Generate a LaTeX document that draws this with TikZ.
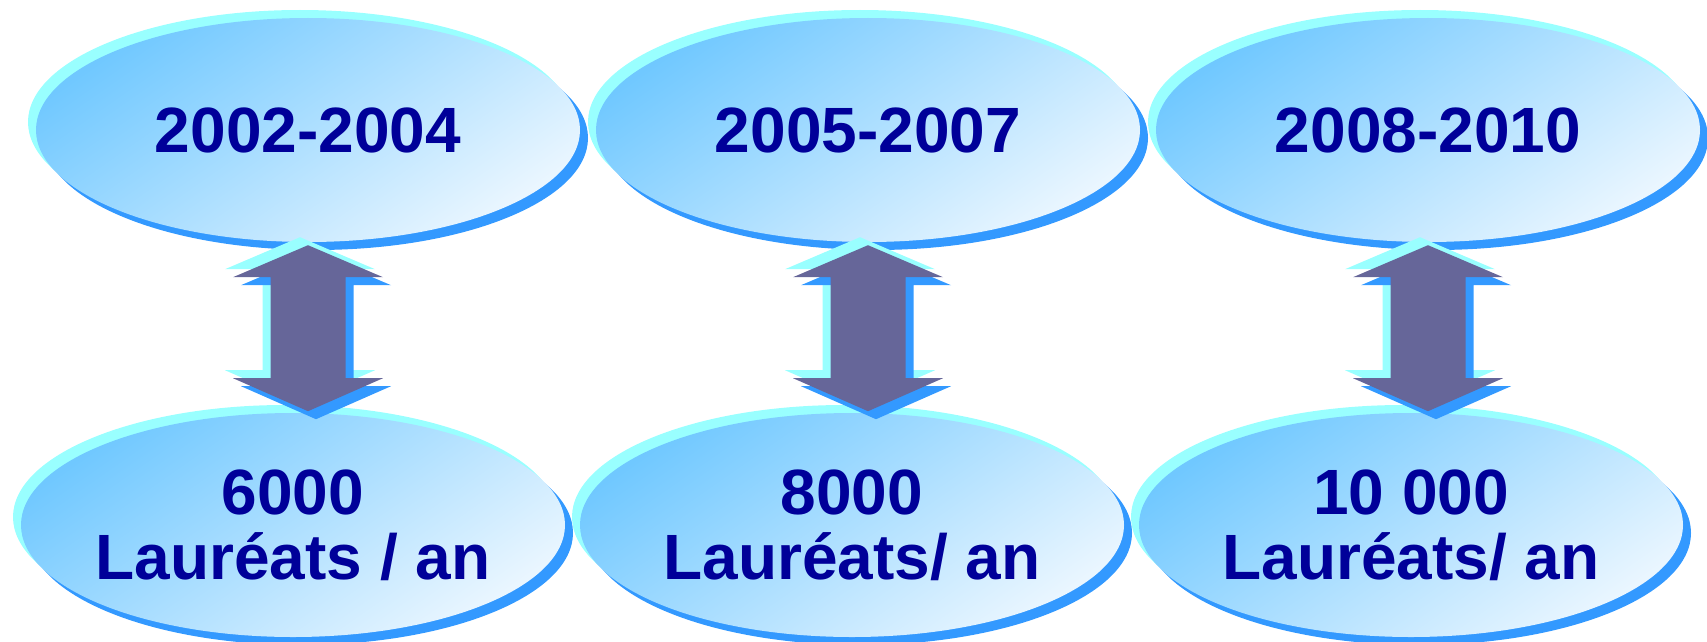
\documentclass[tikz,border=0pt]{standalone}
\usepackage{fontspec}
\setmainfont{Liberation Sans}
\usetikzlibrary{shapes.geometric}
\definecolor{cyanc}{RGB}{153,255,255}
\definecolor{shblue}{RGB}{51,153,255}
\definecolor{cA}{RGB}{112,200,255}
\definecolor{cB}{RGB}{234,246,255}
\definecolor{txt}{RGB}{0,0,153}
\definecolor{arr}{RGB}{102,102,153}
\tikzset{
  ell/.style={ellipse, minimum width=544pt, minimum height=224pt, inner sep=0pt, draw=none},
  hl/.style={ell, fill=cyanc},
  sh/.style={ell, fill=shblue},
  mainell/.style={ell, top color=cA, bottom color=cB, shading angle=35},
  lbl/.style={text=txt, font=\fontsize{64}{65}\selectfont\bfseries, align=center, inner sep=0pt},
  dblarrow/.pic={
    \path[pic actions] (0,-83) -- (75,-51) -- (37.5,-51) -- (37.5,50) -- (75,50) -- (0,83)
      -- (-75,50) -- (-37.5,50) -- (-37.5,-51) -- (-75,-51) -- cycle;
  }
}
\begin{document}
\begin{tikzpicture}[x=1pt,y=-1pt]
\useasboundingbox (0,0) rectangle (1707,642);
% top row
\node[hl] (t1h) at (300,122) {};
\node[sh] (t1s) at (316,138) {};
\node[mainell] (t1) at (308,130) {};
\node[lbl] (t1t) at (t1) {2002-2004};
\node[hl] (t2h) at (860,122) {};
\node[sh] (t2s) at (876,138) {};
\node[mainell] (t2) at (868,130) {};
\node[lbl] (t2t) at (t2) {2005-2007};
\node[hl] (t3h) at (1420,122) {};
\node[sh] (t3s) at (1436,138) {};
\node[mainell] (t3) at (1428,130) {};
\node[lbl] (t3t) at (t3) {2008-2010};
% bottom row
\node[hl] (b1h) at (285,517) {};
\node[sh] (b1s) at (301,533) {};
\node[mainell] (b1) at (293,525) {};
\node[lbl] (b1t) at (b1) {6000\\Lauréats / an};
\node[hl] (b2h) at (844,517) {};
\node[sh] (b2s) at (860,533) {};
\node[mainell] (b2) at (852,525) {};
\node[lbl] (b2t) at (b2) {8000\\Lauréats/ an};
\node[hl] (b3h) at (1403,517) {};
\node[sh] (b3s) at (1419,533) {};
\node[mainell] (b3) at (1411,525) {};
\node[lbl] (b3t) at (b3) {10 000\\Lauréats/ an};
% arrows
\foreach \k in {1,2,3}{
  \path (t\k.south) ++(0,86) coordinate (a\k);
  \pic[fill=cyanc, shift={(-8,-8)}] at (a\k) {dblarrow};
  \pic[fill=shblue, shift={(8,8)}] at (a\k) {dblarrow};
  \pic[fill=arr] at (a\k) {dblarrow};
}
\end{tikzpicture}
\end{document}
